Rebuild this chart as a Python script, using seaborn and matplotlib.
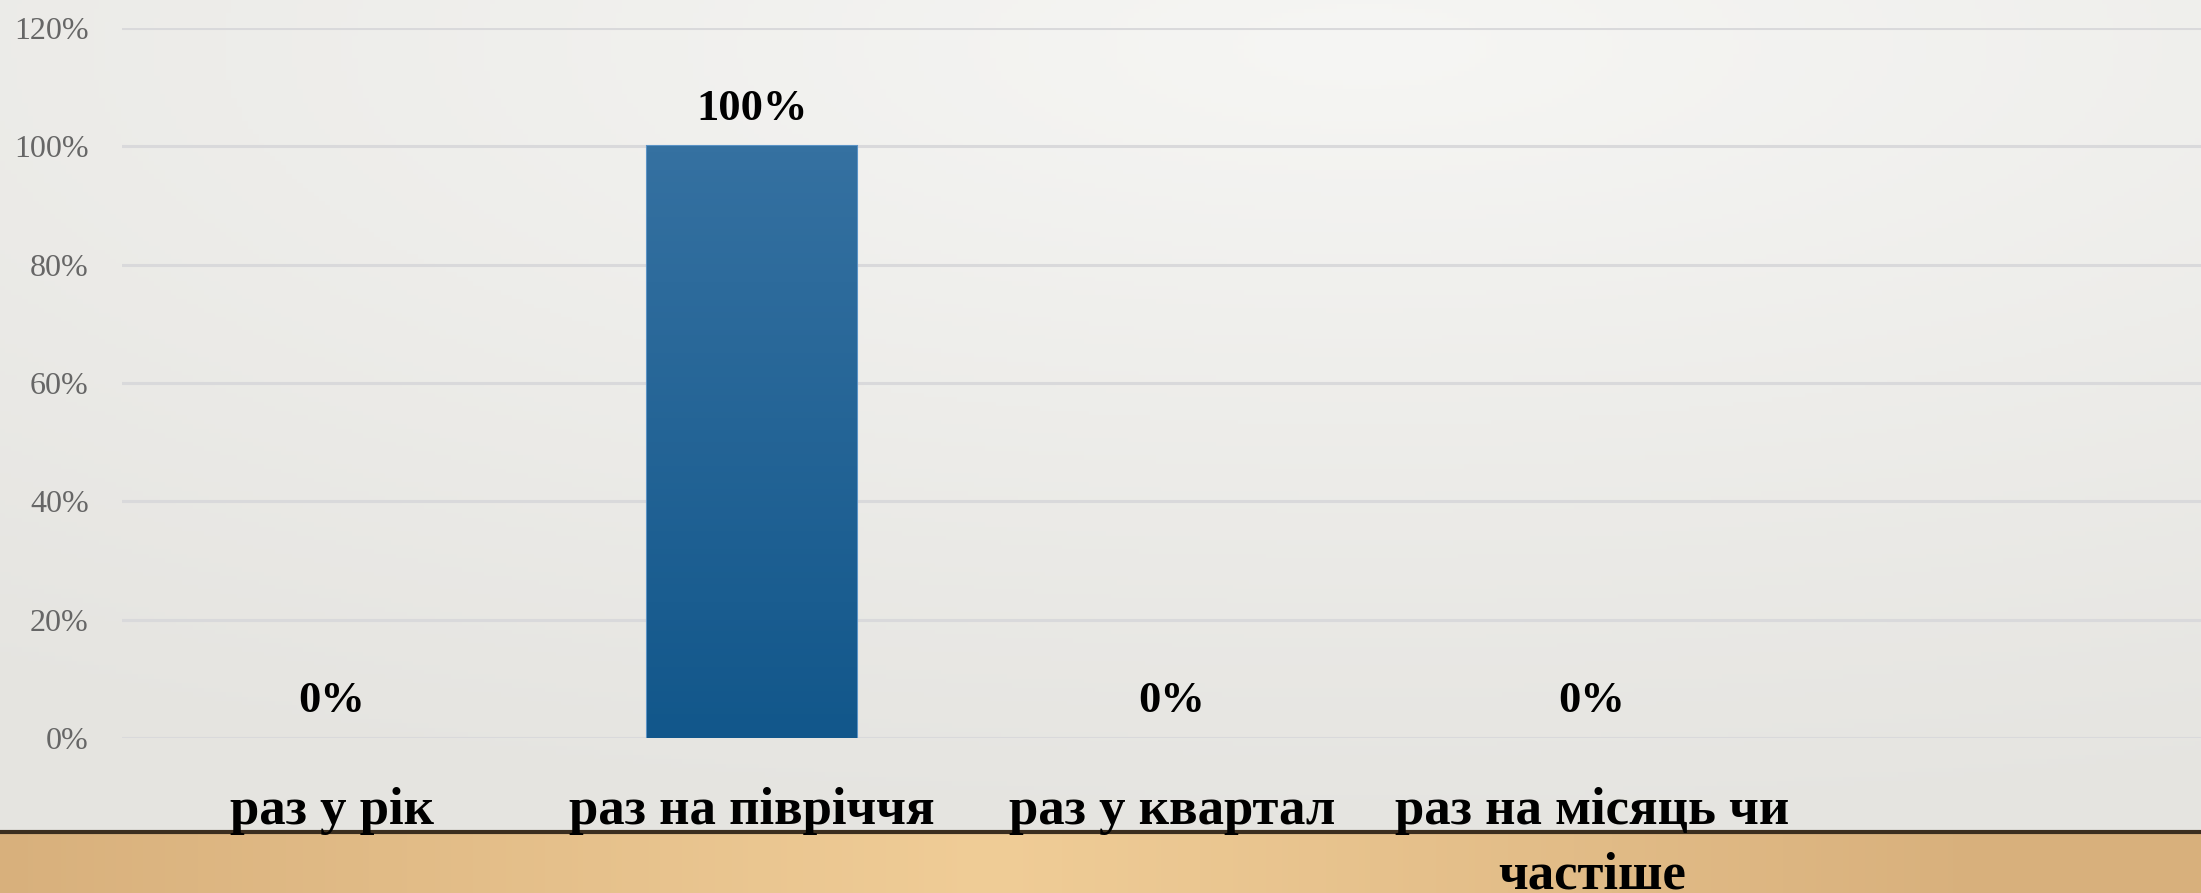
import numpy as np
import pandas as pd
import matplotlib
matplotlib.use("Agg")
import matplotlib.pyplot as plt
import matplotlib.colors as mcolors
import seaborn as sns

# data
categories = ["раз у рік", "раз на півріччя", "раз у квартал", "раз на місяць чи\nчастіше"]
shares = [0.0, 1.0, 0.0, 0.0]
y_ticks = [0.0, 0.2, 0.4, 0.6, 0.8, 1.0, 1.2]
y_tick_labels = ["0%", "20%", "40%", "60%", "80%", "100%", "120%"]

df = pd.DataFrame({"category": categories, "share": shares})

sns.set_theme(style="white")
plt.rcParams["font.family"] = ["Liberation Serif", "DejaVu Serif"]

W, H = 2201, 893
fig = plt.figure(figsize=(W / 100, H / 100), dpi=100)

# background: soft grey gradient + wooden strip at the bottom
bg = fig.add_axes([0, 0, 1, 1], zorder=-5)
bg.set_axis_off()
xx, yy = np.meshgrid(np.linspace(0, 1, 400), np.linspace(0, 1, 200))
light = np.clip(1 - np.hypot((xx - 0.62) * 0.9, (yy - 0.05) * 1.1), 0, 1)
c_dark = np.array(mcolors.to_rgb("#e5e4e0"))
c_light = np.array(mcolors.to_rgb("#f6f6f4"))
img = c_dark + (c_light - c_dark) * light[..., None] ** 1.1
bg.imshow(img, extent=[0, 1, 0, 1], aspect="auto", origin="upper")
wood_top = (H - 832) / H
wx = np.linspace(0, 1, 400)
wood_l = np.clip(1 - np.abs(wx - 0.45) * 2.2, 0, 1)
w_dark = np.array(mcolors.to_rgb("#d8b07c"))
w_light = np.array(mcolors.to_rgb("#f0cd97"))
wood = w_dark + (w_light - w_dark) * wood_l[None, :, None]
wood = np.repeat(wood, 10, axis=0)
bg.imshow(wood, extent=[0, 1, 0, wood_top], aspect="auto")
bg.plot([0, 1], [wood_top, wood_top], color="#3b2e1f", lw=3, solid_capstyle="butt")
bg.set_xlim(0, 1)
bg.set_ylim(0, 1)

left = 122 / W
bottom = (H - 738) / H
top = (H - 28) / H
ax = fig.add_axes([left, bottom, 1 - left, top - bottom], zorder=1)
ax.patch.set_alpha(0)

sns.barplot(data=df, x="category", y="share", color="#1b5e92", width=0.5,
            linewidth=0, ax=ax, zorder=3)

# vertical gradient inside the bar
grad = np.linspace(0, 1, 100)[:, None]
bar_cmap = mcolors.LinearSegmentedColormap.from_list("bar", ["#3571a1", "#12578b"])
for p in ax.patches:
    if p.get_height() > 0:
        p.set_edgecolor("#5b93c6")
        p.set_linewidth(1.5)
        x0, w, h = p.get_x(), p.get_width(), p.get_height()
        im = ax.imshow(grad, cmap=bar_cmap, extent=[x0, x0 + w, 0, h],
                       aspect="auto", origin="upper", zorder=3.5)
        im.set_clip_path(p)

ax.set_xlim(-0.5, 4.45)
ax.set_ylim(0, 1.2)
ax.set_yticks(y_ticks)
ax.set_yticklabels(y_tick_labels, fontsize=23, color="#666666")
ax.tick_params(axis="y", length=0, pad=24)
ax.tick_params(axis="x", length=0, pad=35)
for lbl in ax.get_xticklabels():
    lbl.set_fontsize(38)
    lbl.set_fontweight("bold")
    lbl.set_color("black")
    lbl.set_linespacing(1.45)
ax.yaxis.grid(True, color="#d9d9db", lw=2.2)
ax.set_axisbelow(True)
for s in ax.spines.values():
    s.set_visible(False)
ax.set_xlabel("")
ax.set_ylabel("")

for i, v in enumerate(shares):
    ax.annotate(f"{v * 100:.0f}%", (i, v), xytext=(0, 27), textcoords="offset points",
                ha="center", va="center", fontsize=32, fontweight="bold", color="black")

fig.savefig("out.png", dpi=100)
